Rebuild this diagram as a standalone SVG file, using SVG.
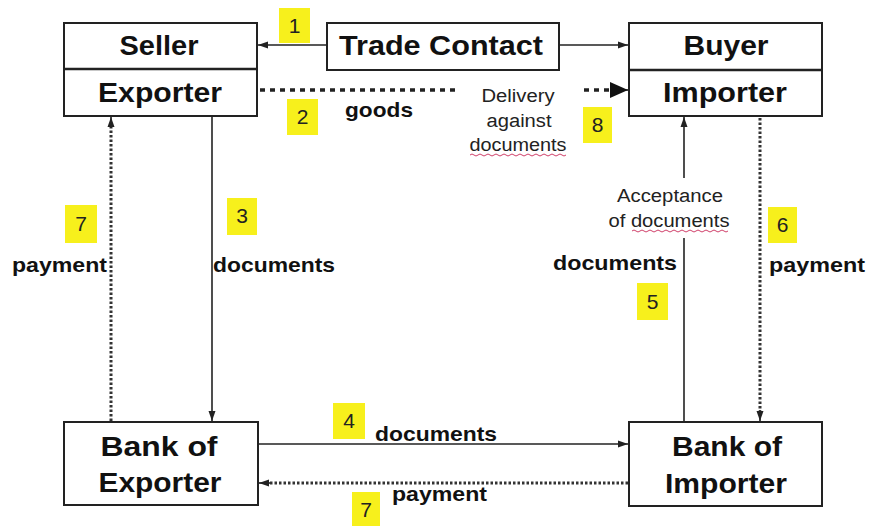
<svg xmlns="http://www.w3.org/2000/svg" width="872" height="526" viewBox="0 0 872 526">
<style>
.box{fill:#fff;stroke:#222;stroke-width:2}
.t{font-family:"Liberation Sans",Arial,sans-serif;font-weight:bold;fill:#111}
.big{font-size:27px;text-anchor:middle}
.lbl{font-size:21px}
.thin{font-family:"Liberation Sans",Arial,sans-serif;font-size:18px;fill:#222;text-anchor:middle}
.num{fill:#f7f01c}
.n{font-family:"Liberation Sans",Arial,sans-serif;font-size:21px;fill:#222;text-anchor:middle}
.solid{stroke:#222;stroke-width:1.6;fill:none}
.dot{stroke:#333;stroke-width:3;fill:none;stroke-dasharray:2.5 2}
.goods{stroke:#222;stroke-width:3.5;fill:none;stroke-dasharray:5 5}
.squig{stroke:#d0406a;stroke-width:1;fill:none}
</style>
<defs>
<marker id="ah" markerUnits="userSpaceOnUse" markerWidth="10" markerHeight="10" viewBox="0 0 10 10" refX="10" refY="5" orient="auto">
<path d="M0,1.5 L10,5 L0,8.5 Z" fill="#222"/>
</marker>
<marker id="ahBig" markerUnits="userSpaceOnUse" markerWidth="18" markerHeight="16" viewBox="0 0 18 16" refX="18" refY="8" orient="auto">
<path d="M0,0 L18,8 L0,16 Z" fill="#111"/>
</marker>
</defs>
<rect width="872" height="526" fill="#fff"/>

<g id="connectors">
<line class="solid" x1="327" y1="45" x2="258" y2="45" marker-end="url(#ah)"/>
<line class="solid" x1="559" y1="45" x2="628" y2="45" marker-end="url(#ah)"/>
<line class="goods" x1="260" y1="90" x2="458" y2="90"/>
<line class="goods" x1="584" y1="90" x2="612" y2="90"/>
<line class="solid" x1="610" y1="90" x2="628" y2="90" marker-end="url(#ahBig)" stroke-width="1"/>
<line class="solid" x1="212" y1="117" x2="212" y2="421" marker-end="url(#ah)"/>
<line class="dot" x1="111" y1="421" x2="111" y2="126"/>
<line class="solid" x1="111" y1="128" x2="111" y2="117" marker-end="url(#ah)"/>
<line class="solid" x1="259" y1="444" x2="628" y2="444" marker-end="url(#ah)"/>
<line class="dot" x1="628" y1="483" x2="268" y2="483"/>
<line class="solid" x1="270" y1="483" x2="259" y2="483" marker-end="url(#ah)"/>
<line class="solid" x1="684" y1="421" x2="684" y2="238"/>
<line class="solid" x1="684" y1="178" x2="684" y2="117" marker-end="url(#ah)"/>
<line class="dot" x1="760" y1="118" x2="760" y2="412"/>
<line class="solid" x1="760" y1="410" x2="760" y2="421" marker-end="url(#ah)"/>
</g>

<g id="seller-exporter">
<rect class="box" x="64" y="23" width="193" height="93"/>
<line x1="64" y1="69" x2="257" y2="69" stroke="#222" stroke-width="2.5"/>
<text class="t big" x="159" y="55" textLength="79" lengthAdjust="spacingAndGlyphs">Seller</text>
<text class="t big" x="160" y="102" textLength="124" lengthAdjust="spacingAndGlyphs">Exporter</text>
</g>

<g id="trade-contact">
<rect class="box" x="327" y="23" width="232" height="47"/>
<text class="t big" x="441" y="55" textLength="204" lengthAdjust="spacingAndGlyphs">Trade Contact</text>
</g>

<g id="buyer-importer">
<rect class="box" x="629" y="23" width="193" height="93"/>
<line x1="629" y1="70" x2="822" y2="70" stroke="#222" stroke-width="2.5"/>
<text class="t big" x="726" y="55" textLength="85" lengthAdjust="spacingAndGlyphs">Buyer</text>
<text class="t big" x="725" y="102" textLength="124" lengthAdjust="spacingAndGlyphs">Importer</text>
</g>

<g id="bank-exporter">
<rect class="box" x="64" y="422" width="194" height="83"/>
<text class="t big" x="159" y="456" font-size="28" textLength="117" lengthAdjust="spacingAndGlyphs">Bank of</text>
<text class="t big" x="160" y="492" font-size="28" textLength="123" lengthAdjust="spacingAndGlyphs">Exporter</text>
</g>

<g id="bank-importer">
<rect class="box" x="629" y="422" width="193" height="84"/>
<text class="t big" x="727" y="456" font-size="28" textLength="110" lengthAdjust="spacingAndGlyphs">Bank of</text>
<text class="t big" x="726" y="493" font-size="28" textLength="122" lengthAdjust="spacingAndGlyphs">Importer</text>
</g>

<g id="labels">
<text class="t lbl" x="345" y="117" textLength="68" lengthAdjust="spacingAndGlyphs">goods</text>
<text class="thin" x="518" y="102" textLength="73" lengthAdjust="spacingAndGlyphs">Delivery</text>
<text class="thin" x="519" y="127" textLength="65" lengthAdjust="spacingAndGlyphs">against</text>
<text class="thin" x="518" y="151" textLength="97" lengthAdjust="spacingAndGlyphs">documents</text>
<path class="squig" d="M470,155 q2,-2 4,0 t4,0 t4,0 t4,0 t4,0 t4,0 t4,0 t4,0 t4,0 t4,0 t4,0 t4,0 t4,0 t4,0 t4,0 t4,0 t4,0 t4,0 t4,0 t4,0 t4,0 t4,0 t4,0 t4,0"/>
<text class="thin" x="670" y="202" textLength="106" lengthAdjust="spacingAndGlyphs">Acceptance</text>
<text class="thin" x="669" y="227" textLength="121" lengthAdjust="spacingAndGlyphs">of documents</text>
<path class="squig" d="M632,231 q2,-2 4,0 t4,0 t4,0 t4,0 t4,0 t4,0 t4,0 t4,0 t4,0 t4,0 t4,0 t4,0 t4,0 t4,0 t4,0 t4,0 t4,0 t4,0 t4,0 t4,0 t4,0 t4,0 t4,0 t4,0"/>
<text class="t lbl" x="12" y="272" textLength="95" lengthAdjust="spacingAndGlyphs">payment</text>
<text class="t lbl" x="213" y="272" textLength="122" lengthAdjust="spacingAndGlyphs">documents</text>
<text class="t lbl" x="553" y="270" textLength="124" lengthAdjust="spacingAndGlyphs">documents</text>
<text class="t lbl" x="769" y="272" textLength="96" lengthAdjust="spacingAndGlyphs">payment</text>
<text class="t lbl" x="375" y="441" textLength="122" lengthAdjust="spacingAndGlyphs">documents</text>
<text class="t lbl" x="392" y="501" textLength="95" lengthAdjust="spacingAndGlyphs">payment</text>
</g>

<g id="step-numbers">
<rect class="num" x="279" y="8" width="31" height="35"/><text class="n" x="294.5" y="33">1</text>
<rect class="num" x="287" y="99" width="31" height="36"/><text class="n" x="302.5" y="124">2</text>
<rect class="num" x="583" y="107" width="29" height="36"/><text class="n" x="597.5" y="132">8</text>
<rect class="num" x="227" y="198" width="30" height="37"/><text class="n" x="242" y="223">3</text>
<rect class="num" x="65" y="205" width="32" height="38"/><text class="n" x="81" y="231">7</text>
<rect class="num" x="637" y="283" width="31" height="37"/><text class="n" x="652.5" y="309">5</text>
<rect class="num" x="768" y="207" width="29" height="36"/><text class="n" x="782.5" y="232">6</text>
<rect class="num" x="333" y="403" width="32" height="36"/><text class="n" x="349" y="428">4</text>
<rect class="num" x="352" y="492" width="28" height="34"/><text class="n" x="366" y="517">7</text>
</g>
</svg>
